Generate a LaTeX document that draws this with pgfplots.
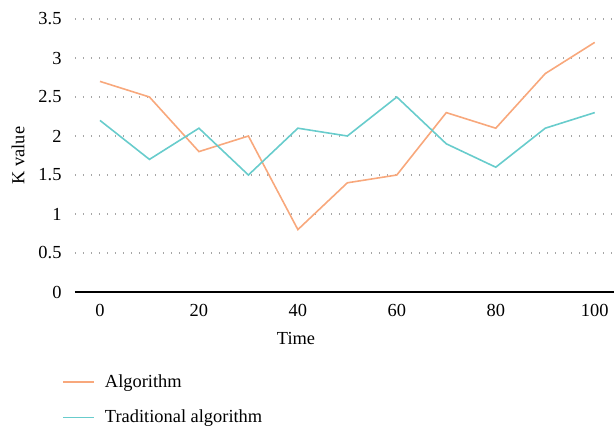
\documentclass[border=0pt]{standalone}
\usepackage{pgfplots}
\pgfplotsset{compat=1.18}
\usepackage{fontspec}
\setmainfont{Liberation Serif}
\definecolor{algo}{RGB}{248,168,124}
\definecolor{trad}{RGB}{104,204,204}
\begin{document}
\fontsize{9.2bp}{11bp}\selectfont
\begin{tikzpicture}
\begin{axis}[name=ax, at={(0,0)}, anchor=south west, scale only axis,
  width=269.5bp, height=136.5bp,
  xmin=-5.05, xmax=103.9, ymin=0, ymax=3.5,
  axis x line*=bottom, axis y line*=left,
  x axis line style={-, black, line width=1.1bp},
  y axis line style={draw=none},
  major tick length=0pt,
  xtick={0,20,...,100},
  ytick={0,0.5,...,3.5},
  ymajorgrids,
  grid style={gray!70, line width=0.6bp, dash pattern=on 0.6bp off 3.4bp},
  /pgf/number format/assume math mode=true,
  xticklabel style={yshift=-3bp},
  yticklabel style={xshift=-3.5bp},
  xlabel={Time}, ylabel={K value},
  xlabel style={at={(axis description cs:0.41,0)}, anchor=center, yshift=-23bp},
  ylabel style={at={(axis description cs:-0.1058,0.5)}, anchor=center},
  legend cell align=left,
  legend style={draw=none, fill=none, at={(axis description cs:-0.0241,-0.2857)},
    anchor=north west, inner sep=0pt, row sep=6bp},
  legend image code/.code={\draw[#1] (0bp,0bp) -- (15.5bp,0bp); \path (18.5bp,0bp);},
]
\addplot[algo, line width=0.8bp] coordinates {
(0,2.7) (10,2.5) (20,1.8) (30,2.0) (40,0.8) (50,1.4) (60,1.5) (70,2.3) (80,2.1) (90,2.8) (100,3.2)};
\addlegendentry{Algorithm}
\addplot[trad, line width=0.8bp] coordinates {
(0,2.2) (10,1.7) (20,2.1) (30,1.5) (40,2.1) (50,2.0) (60,2.5) (70,1.9) (80,1.6) (90,2.1) (100,2.3)};
\addlegendentry{Traditional algorithm}
\end{axis}
\pgfresetboundingbox
\path[use as bounding box] (-37.5bp,-67bp) rectangle (269.5bp,146bp);
\end{tikzpicture}
\end{document}
